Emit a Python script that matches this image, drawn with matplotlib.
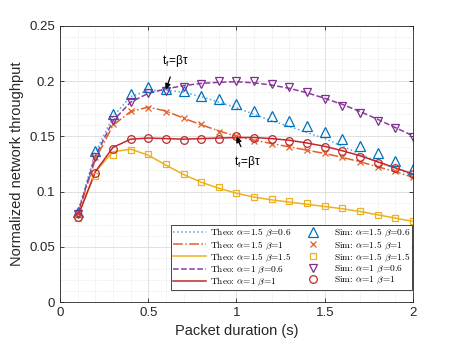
import numpy as np
import matplotlib
matplotlib.use('Agg')
import matplotlib.pyplot as plt

plt.rcParams['font.family'] = ['Liberation Sans', 'DejaVu Sans']
plt.rcParams['mathtext.fontset'] = 'cm'

packet_duration = [0.1, 0.2, 0.3, 0.4, 0.5, 0.6, 0.7, 0.8, 0.9, 1.0,
                   1.1, 1.2, 1.3, 1.4, 1.5, 1.6, 1.7, 1.8, 1.9, 2.0]

# theoretical curves
theo_a15_b06 = [0.081, 0.135, 0.168, 0.186, 0.1915, 0.192, 0.190, 0.186, 0.181, 0.176,
                0.170, 0.164, 0.159, 0.1535, 0.148, 0.141, 0.134, 0.127, 0.121, 0.115]
theo_a15_b1 = [0.079, 0.129, 0.160, 0.1725, 0.1765, 0.173, 0.1665, 0.1605, 0.155, 0.150,
               0.1465, 0.1435, 0.1405, 0.1375, 0.1345, 0.131, 0.127, 0.1225, 0.118, 0.113]
theo_a15_b15 = [0.077, 0.118, 0.136, 0.1385, 0.133, 0.124, 0.1155, 0.1085, 0.103, 0.0985,
                0.095, 0.0925, 0.0905, 0.0885, 0.0865, 0.0845, 0.082, 0.079, 0.076, 0.073]
theo_a1_b06 = [0.080, 0.132, 0.164, 0.181, 0.189, 0.193, 0.196, 0.198, 0.199, 0.1995,
               0.1985, 0.1965, 0.1935, 0.1895, 0.1845, 0.179, 0.1725, 0.1655, 0.158, 0.1505]
theo_a1_b1 = [0.077, 0.118, 0.140, 0.1475, 0.1485, 0.148, 0.1475, 0.148, 0.1485, 0.149,
              0.149, 0.148, 0.1465, 0.144, 0.141, 0.137, 0.1325, 0.127, 0.1215, 0.116]

# simulation points
sim_a15_b06 = [0.0818, 0.1368, 0.170, 0.1884, 0.1944, 0.193, 0.1914, 0.1866, 0.1836, 0.179,
               0.1733, 0.1688, 0.164, 0.1597, 0.154, 0.148, 0.1416, 0.1347, 0.1274, 0.1208]
sim_a15_b1 = [0.080, 0.131, 0.161, 0.173, 0.176, 0.1724, 0.167, 0.161, 0.1543, 0.150,
              0.146, 0.143, 0.1407, 0.1377, 0.1347, 0.131, 0.1265, 0.1226, 0.1187, 0.1135]
sim_a15_b15 = [0.0758, 0.114, 0.133, 0.1377, 0.1337, 0.1247, 0.116, 0.109, 0.1039, 0.0984,
               0.0951, 0.0933, 0.0912, 0.0894, 0.087, 0.0848, 0.0824, 0.0788, 0.0764, 0.073]
sim_a1_b06 = [0.080, 0.1316, 0.165, 0.1815, 0.1896, 0.1914, 0.195, 0.1975, 0.2002, 0.2005,
              0.1998, 0.1972, 0.1945, 0.1902, 0.1835, 0.1772, 0.1712, 0.1638, 0.1573, 0.1497]
sim_a1_b1 = [0.0773, 0.117, 0.139, 0.1476, 0.149, 0.148, 0.1467, 0.1476, 0.148, 0.150,
             0.149, 0.1476, 0.1458, 0.1437, 0.1407, 0.1368, 0.131, 0.126, 0.1217, 0.116]

labels = [r'$\alpha$=1.5 $\beta$=0.6', r'$\alpha$=1.5 $\beta$=1', r'$\alpha$=1.5 $\beta$=1.5',
          r'$\alpha$=1 $\beta$=0.6', r'$\alpha$=1 $\beta$=1']

theo = [theo_a15_b06, theo_a15_b1, theo_a15_b15, theo_a1_b06, theo_a1_b1]
sim = [sim_a15_b06, sim_a15_b1, sim_a15_b15, sim_a1_b06, sim_a1_b1]
line_colors = ['#4DA8E6', '#E0602A', '#EDB120', '#8E3A9E', '#C0282D']
marker_colors = ['#0072BD', '#E0602A', '#EDB120', '#7E2F8E', '#C0282D']
styles = [':', '-.', '-', '--', '-']
markers = ['^', 'x', 's', 'v', 'o']
msizes = [6.5, 4.5, 4.5, 6, 5.5]

fig = plt.figure(figsize=(4.57, 3.43), dpi=100)
ax = fig.add_axes([0.1313, 0.1195, 0.7724, 0.8047])

theo_handles = []
sim_handles = []
for i in range(5):
    h, = ax.plot(packet_duration, theo[i], linestyle=styles[i], color=line_colors[i], lw=1.1)
    theo_handles.append(h)
for i in range(5):
    h, = ax.plot(packet_duration, sim[i], linestyle='none', marker=markers[i], markersize=msizes[i],
                 markerfacecolor='none', markeredgecolor=marker_colors[i], markeredgewidth=0.9)
    sim_handles.append(h)

ax.set_xlim(0, 2)
ax.set_ylim(0, 0.25)
ax.set_xticks([0, 0.5, 1, 1.5, 2])
ax.set_xticklabels(['0', '0.5', '1', '1.5', '2'])
ax.set_yticks([0, 0.05, 0.1, 0.15, 0.2, 0.25])
ax.set_yticklabels(['0', '0.05', '0.1', '0.15', '0.2', '0.25'])
ax.set_xticks(np.arange(0, 2.01, 0.1), minor=True)
ax.set_yticks(np.arange(0, 0.251, 0.01), minor=True)
ax.grid(which='major', color='#dcdcdc', lw=0.6, linestyle='-')
ax.grid(which='minor', color='#e4e4e4', lw=0.5, linestyle=(0, (2, 2)))
ax.set_axisbelow(True)
ax.tick_params(which='both', direction='in', top=True, right=True, labelsize=9.5, colors='#262626',
               labelcolor='#262626')
ax.tick_params(which='minor', length=0)
ax.tick_params(which='major', length=3, width=0.6)
for s in ax.spines.values():
    s.set_color('#262626')
    s.set_linewidth(0.6)

ax.set_xlabel('Packet duration (s)', fontsize=10.5, color='#262626')
ax.set_ylabel('Normalized network throughput', fontsize=10.5, color='#262626')

ax.annotate(r't$_\mathregular{f}$=βτ', xy=(0.6, 0.1926), xytext=(0.657, 0.2183),
            ha='center', va='center', fontsize=8.5,
            arrowprops=dict(arrowstyle='-|>', color='k', lw=0.9, mutation_scale=8, shrinkA=4, shrinkB=0))
ax.annotate(r't$_\mathregular{f}$=βτ', xy=(1.0, 0.1497), xytext=(1.065, 0.1264),
            ha='center', va='center', fontsize=8.5,
            arrowprops=dict(arrowstyle='-|>', color='k', lw=0.9, mutation_scale=8, shrinkA=4, shrinkB=0))

leg_labels = ['Theo: ' + l for l in labels] + ['Sim: ' + l for l in labels]
leg = ax.legend(theo_handles + sim_handles, leg_labels, ncol=2, loc='lower right',
                bbox_to_anchor=(0.997, 0.043), prop={'family': 'cmr10', 'size': 6.8},
                handlelength=3.5, labelspacing=0.0, columnspacing=0.6, handletextpad=0.4,
                borderpad=0.2, fancybox=False, framealpha=1, edgecolor='#262626',
                borderaxespad=0)
leg.get_frame().set_linewidth(0.6)

fig.savefig('out.png', dpi=100)
